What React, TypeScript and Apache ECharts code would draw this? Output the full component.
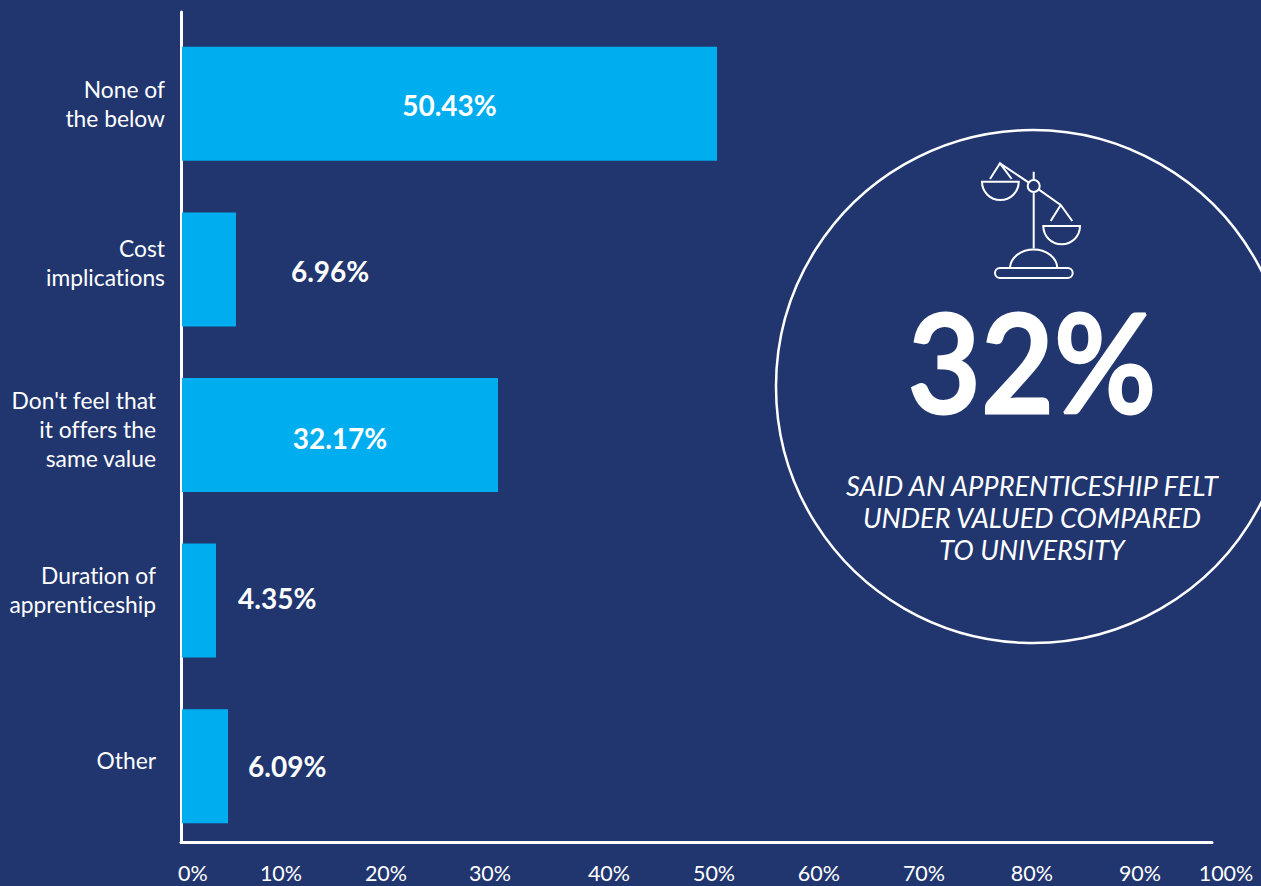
import React, { useEffect, useRef } from "react";
import * as echarts from "echarts";

const categories = ["None of\nthe below", "Cost\nimplications", "Don't feel that\nit offers the\nsame value", "Duration of\napprenticeship", "Other"];
const shownLabels = ["50.43%", "6.96%", "32.17%", "4.35%", "6.09%"];
// Bar lengths as drawn in the picture, read against the axis (they do not follow the printed percentages exactly)
const barLengths = [51.25, 5.17, 30.27, 3.26, 4.41];
const tickLabels = ["0%", "10%", "20%", "30%", "40%", "50%", "60%", "70%", "80%", "90%", "100%"];
// Where the picture's tick labels actually sit along the axis
const tickPlaces = [1.05, 9.48, 19.54, 29.5, 40.9, 50.96, 61.0, 71.07, 81.4, 91.76, 100];
const labelOutside = [0, 55, 0, 22, 20];
const labelShiftY = [1, 2, 3, -3, 0];
const categoryPadRight = [0, 0, 9, 9, 9];
const categoryGap = [0, 13, 12, 23, 13];

const scaleIcon =
  "M40 13.3 L68.8 32.6 M78.6 39.4 L100.7 55 M73.7 21.7 L73.7 30 M73.7 42 L73.7 98.3 " +
  "M79.7 36 A6 6 0 1 1 67.7 36 A6 6 0 1 1 79.7 36 Z " +
  "M30 29 L40 13.3 L51.7 29 M22 31.7 H58.7 A18.35 18.35 0 0 1 22 31.7 Z " +
  "M90.7 71 L100.7 55 L112.3 71 M83.3 76 H120 A18.35 18.35 0 0 1 83.3 76 Z " +
  "M50 117.3 A23.7 19 0 0 1 97.3 117.3 " +
  "M40 118 H107.7 A5 5 0 0 1 107.7 128 H40 A5 5 0 0 1 40 118 Z";
echarts.graphic.registerShape("scaleIcon", echarts.graphic.extendPath(scaleIcon, {}) as any);

const FONT = "Lato";
const WHITE = "#ffffff";

const gapStyles: Record<string, object> = {};
categoryGap.forEach((h) => {
  if (h) gapStyles["g" + h] = { lineHeight: h, height: h, fontSize: 1 };
});

export default function App() {
  const ref = useRef<HTMLDivElement>(null);
  useEffect(() => {
    const chart = echarts.init(ref.current!, undefined, { renderer: "svg" });
    chart.setOption({
      animation: false,
      backgroundColor: "#21366F",
      textStyle: { fontFamily: FONT },
      grid: [
        { left: 181, top: 12, width: 1031, height: 830 },
        { left: 182, top: 21, width: 1044, height: 828 },
      ],
      xAxis: [
        {
          gridIndex: 0, type: "value", min: 0, max: 100, position: "bottom",
          axisLine: { show: true, onZero: false, lineStyle: { color: WHITE, width: 3 } },
          axisTick: { show: false }, axisLabel: { show: false }, splitLine: { show: false },
        },
        {
          gridIndex: 1, type: "value", min: 0, max: 100, position: "bottom",
          axisLine: { show: false }, axisTick: { show: false }, splitLine: { show: false },
          axisLabel: {
            show: true, customValues: tickPlaces, hideOverlap: false, margin: 13,
            color: WHITE, fontFamily: FONT, fontSize: 21.5,
            formatter: (v: number) => tickLabels[tickPlaces.indexOf(v)] ?? "",
          },
        },
      ],
      yAxis: [
        {
          gridIndex: 0, type: "value", min: 0, max: 1,
          axisLine: { show: true, onZero: false, lineStyle: { color: WHITE, width: 3 } },
          axisTick: { show: false }, axisLabel: { show: false }, splitLine: { show: false },
        },
        {
          gridIndex: 1, type: "category", inverse: true,
          data: categories.map((c, i) => ({
            value: c,
            textStyle: { padding: [0, categoryPadRight[i], 0, 0] },
          })),
          axisLine: { show: false }, axisTick: { show: false },
          axisLabel: {
            color: WHITE, fontFamily: FONT, fontSize: 22.8, lineHeight: 29, margin: 17, align: "right", interval: 0,
            formatter: (v: string, i: number) => {
              const lines = v.split("\n").map((l) => `{t|${l}}`);
              if (categoryGap[i]) lines.push(`{g${categoryGap[i]}| }`);
              return lines.join("\n");
            },
            rich: {
              t: { color: WHITE, fontFamily: FONT, fontSize: 22.8, lineHeight: 29, align: "right" },
              ...gapStyles,
            },
          },
        },
      ],
      series: [
        {
          type: "bar", xAxisIndex: 1, yAxisIndex: 1, barWidth: 114,
          itemStyle: { color: "#00AEEF" },
          data: barLengths.map((v, i) => ({
            value: v,
            label: {
              show: true,
              position: labelOutside[i] ? "right" : "inside",
              distance: labelOutside[i],
              offset: [0, labelShiftY[i]],
              formatter: shownLabels[i],
              color: WHITE, fontFamily: FONT, fontWeight: 700, fontSize: 28,
            },
          })),
        },
      ],
      graphic: [
        { type: "circle", shape: { cx: 1032.5, cy: 386.5, r: 256.5 }, style: { fill: "none", stroke: WHITE, lineWidth: 2.5 } },
        { type: "scaleIcon", x: 960, y: 150, style: { fill: "none", stroke: WHITE, lineWidth: 2 } },
        { type: "text", x: 1032, y: 360, scaleX: 0.92, style: { text: "32%", fill: WHITE, stroke: WHITE, lineWidth: 3, font: `600 137px ${FONT}`, textAlign: "center", textVerticalAlign: "middle" } },
        { type: "text", x: 1032, y: 517, style: { text: "SAID AN APPRENTICESHIP FELT\nUNDER VALUED COMPARED\nTO UNIVERSITY", fill: WHITE, font: `italic 400 27.2px ${FONT}`, lineHeight: 32, textAlign: "center", textVerticalAlign: "middle" } },
      ],
    });
    return () => chart.dispose();
  }, []);
  return <div ref={ref} style={{ position: "fixed", left: 0, top: 0, width: 1261, height: 886, fontVariantLigatures: "none" }} />;
}
